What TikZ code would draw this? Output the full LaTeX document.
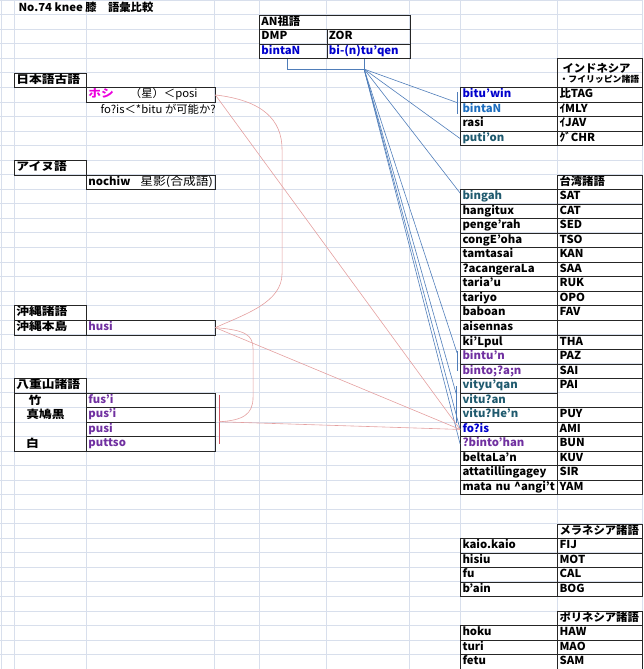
\documentclass[tikz,border=0pt]{standalone}
\usepackage{fontspec}
\setmainfont{Noto Sans CJK JP}[FakeStretch=1.03]
\newfontfamily\jfont{Noto Sans CJK JP}[FakeStretch=1.16]
\definecolor{sheetc}{RGB}{216,223,236}
\definecolor{antiec}{RGB}{79,125,185}
\definecolor{reflinkc}{RGB}{228,160,160}
\definecolor{barc}{RGB}{205,85,100}
\definecolor{anblue}{RGB}{0,0,204}
\definecolor{midblue}{RGB}{30,110,190}
\definecolor{tealc}{RGB}{31,90,110}
\definecolor{purp}{RGB}{112,48,160}
\definecolor{pinkc}{RGB}{235,0,220}
\begin{document}
\begin{tikzpicture}[x=1pt, y=-14.54pt,
  font=\fontsize{11pt}{13pt}\selectfont\bfseries,
  cell/.style={draw=black!85, line width=0.8pt, anchor=north west, minimum height=14.54pt,
    inner xsep=2pt, inner ysep=0pt, text width=#1pt, align=left, text height=8.2pt, text depth=2.5pt},
  jcell/.style={cell=#1, font=\fontsize{11pt}{13pt}\selectfont\jfont\bfseries},
  jlabel/.style={font=\fontsize{11pt}{13pt}\selectfont\jfont\bfseries},
  sheetline/.style={draw=sheetc, line width=0.5pt},
  antie/.style={draw=antiec, line width=0.6pt},
  reflink/.style={draw=reflinkc, line width=0.6pt},
  barline/.style={draw=barc, line width=0.7pt}]
\useasboundingbox (0,0) rectangle (643,46);
% sheet grid
\foreach \k in {0,...,46} \path[sheetline] (0,\k) -- (643,\k);
\foreach \c in {1,14,86,214.5,259,326.5,409.5,460,557,642} \path[sheetline] (\c,0) -- (\c,46);

\node[anchor=west] (title) at (15,0.5) {No.74 knee 膝　語彙比較};

% left tables
\node[jcell=68] (kogo) at (14,5) {日本語古語};
\node[cell=124.5] (hoshi) at (86,6) {\textcolor{pinkc}{\jfont ホシ}\kern16pt\mdseries （星）＜posi};
\node[anchor=west, font=\fontsize{11pt}{13pt}\selectfont] (note) at (97,7.5) {fo?is＜*bitu が可能か?};
\node[jcell=68] (ainu) at (14,11) {アイヌ語};
\node[cell=124.5] (nochiw) at (86,12) {nochiw\kern10pt{\jfont\mdseries 星影(合成語)}};
\node[jcell=68] (oki) at (14,21) {沖縄諸語};
\node[jcell=68] (okih) at (14,22) {沖縄本島};
\node[cell=124.5, text=purp] (husi) at (86,22) {husi};
\node[jcell=68] (yae) at (14,26) {八重山諸語};
\node[cell=68, minimum height=58.16pt] (yaebox) at (14,27) {};
\node[jlabel] (take) at (35,27.5) {竹};
\node[jlabel] (mahato) at (45.5,28.5) {真鳩黒};
\node[jlabel] (shiro) at (32.5,30.5) {白};
\node[cell=124.5, text=purp] (fusi) at (86,27) {fus'i};
\node[cell=124.5, text=purp] (pusi1) at (86,28) {pus'i};
\node[cell=124.5, text=purp] (pusi) at (86,29) {pusi};
\node[cell=124.5, text=purp] (puttso) at (86,30) {puttso};

% AN table
\node[cell=146.5] (anroot) at (259,1) {AN祖語};
\node[cell=63.5] (dmp) at (259,2) {DMP};
\node[cell=79] (zor) at (326.5,2) {ZOR};
\node[cell=63.5, text=anblue] (dmpw) at (259,3) {bintaN};
\node[cell=79, text=anblue] (zorw) at (326.5,3) {bi-(n)tu'qen};

% Indonesia / Philippines
\node[cell=81, minimum height=29.08pt, text height=, text depth=] (indoh) at (557,4)
  {\kern3pt インドネシア\\[-3pt]{\fontsize{8.6pt}{10pt}\selectfont ・フイリッピン諸語}};
\node[cell=93, text=anblue] (bituwin) at (460,6) {bitu'win};
\node[cell=81] (tag) at (557,6) {比TAG};
\node[cell=93, text=midblue] (bintanI) at (460,7) {bintaN};
\node[cell=81] (mly) at (557,7) {ｲMLY};
\node[cell=93] (rasi) at (460,8) {rasi};
\node[cell=81] (jav) at (557,8) {ｲJAV};
\node[cell=93, text=tealc] (pution) at (460,9) {puti'on};
\node[cell=81] (chr) at (557,9) {ｸﾞCHR};

% Taiwan
\node[cell=81] (taiwanh) at (557,12) {台湾諸語};
\node[cell=93, text=tealc] (bingah) at (460,13) {bingah};
\node[cell=81] (sat) at (557,13) {SAT};
\node[cell=93] (hangitux) at (460,14) {hangitux};
\node[cell=81] (cat) at (557,14) {CAT};
\node[cell=93] (pengerah) at (460,15) {penge'rah};
\node[cell=81] (sed) at (557,15) {SED};
\node[cell=93] (congeoha) at (460,16) {congE'oha};
\node[cell=81] (tso) at (557,16) {TSO};
\node[cell=93] (tamtasai) at (460,17) {tamtasai};
\node[cell=81] (kan) at (557,17) {KAN};
\node[cell=93] (acangerala) at (460,18) {?acangeraLa};
\node[cell=81] (saa) at (557,18) {SAA};
\node[cell=93] (tariau) at (460,19) {taria'u};
\node[cell=81] (ruk) at (557,19) {RUK};
\node[cell=93] (tariyo) at (460,20) {tariyo};
\node[cell=81] (opo) at (557,20) {OPO};
\node[cell=93] (baboan) at (460,21) {baboan};
\node[cell=81] (fav) at (557,21) {FAV};
\node[cell=93] (aisennas) at (460,22) {aisennas};
\node[cell=81] (empty) at (557,22) {};
\node[cell=93] (kilpul) at (460,23) {ki'Lpul};
\node[cell=81] (tha) at (557,23) {THA};
\node[cell=93, text=purp] (bintun) at (460,24) {bintu'n};
\node[cell=81] (paz) at (557,24) {PAZ};
\node[cell=93, text=purp] (bintoan) at (460,25) {binto;?a;n};
\node[cell=81] (sai) at (557,25) {SAI};
\node[cell=93, text=tealc] (vityuqan) at (460,26) {vityu'qan};
\node[cell=81, minimum height=29.08pt, text depth=17.04pt] (pai) at (557,26) {PAI};
\node[cell=93, text=tealc] (vituan) at (460,27) {vitu?an};
\node[cell=93, text=tealc] (vituhen) at (460,28) {vitu?He'n};
\node[cell=81] (puy) at (557,28) {PUY};
\node[cell=93, text=anblue] (fois) at (460,29) {fo?is};
\node[cell=81] (ami) at (557,29) {AMI};
\node[cell=93, text=purp] (bintohan) at (460,30) {?binto'han};
\node[cell=81] (bun) at (557,30) {BUN};
\node[cell=93] (beltalan) at (460,31) {beltaLa'n};
\node[cell=81] (kuv) at (557,31) {KUV};
\node[cell=93] (atta) at (460,32) {attatillingagey};
\node[cell=81] (sir) at (557,32) {SIR};
\node[cell=93] (matanu) at (460,33) {mata~nu~\textasciicircum angi't};
\node[cell=81] (yam) at (557,33) {YAM};

% Melanesia
\node[cell=81] (melah) at (557,36) {メラネシア諸語};
\node[cell=93] (kaio) at (460,37) {kaio.kaio};
\node[cell=81] (fij) at (557,37) {FIJ};
\node[cell=93] (hisiu) at (460,38) {hisiu};
\node[cell=81] (mot) at (557,38) {MOT};
\node[cell=93] (fu) at (460,39) {fu};
\node[cell=81] (cal) at (557,39) {CAL};
\node[cell=93] (bain) at (460,40) {b'ain};
\node[cell=81] (bog) at (557,40) {BOG};

% Polynesia
\node[cell=81] (polyh) at (557,42) {ポリネシア諸語};
\node[cell=93] (hoku) at (460,43) {hoku};
\node[cell=81] (haw) at (557,43) {HAW};
\node[cell=93] (turi) at (460,44) {turi};
\node[cell=81] (mao) at (557,44) {MAO};
\node[cell=93] (fetu) at (460,45) {fetu};
\node[cell=81] (sam) at (557,45) {SAM};

% AN links
\coordinate (an) at (364,4.75);
\path[antie] ([xshift=-6pt]dmpw.south) |- (an) -- (an |- zorw.south);
\path[antie] ([xshift=-3pt,yshift=-5pt]bituwin.north west) -- ([xshift=-3pt,yshift=3pt]bintanI.south west);
\path[antie] (an) -- ([xshift=-3pt]bituwin.south west);
\path[antie] (an) -- (pution.west);
\path[antie] (an) -- ([yshift=-4pt]bingah.north west);
\path[antie] ([xshift=-3pt,yshift=-2pt]bintun.north west) -- ([xshift=-3pt]bintoan.west);
\path[antie] (an) -- ([xshift=-3pt,yshift=-4pt]bintun.north west);
\path[antie] ([xshift=-4pt,yshift=-8pt]vityuqan.north west) -- ([xshift=-4pt]vituhen.south west);
\path[antie] (an) -- ([xshift=-4pt]vityuqan.south west);
\path[antie] (an) -- (fois.west);
\path[antie] (an) -- (bintohan.west);

% Japanese / Ryukyuan links
\coordinate (yb) at ([xshift=4pt]pusi.north east);
\path[barline] ([xshift=4pt,yshift=-2pt]fusi.north east) -- ([xshift=4pt]puttso.east);
\path[reflink] (hoshi.east) .. controls (262,6.9) and (282,8.2) .. (282,10.3) -- (282,18.8) .. controls (282,20.8) and (245,21.6) .. (husi.east);
\path[reflink] (husi.east) .. controls (245,22.7) and (253,23.0) .. (253,24) -- (253,27.3) .. controls (253,28.5) and (243,28.9) .. (yb);
\path[reflink] (hoshi.east) -- (fois.west);
\path[reflink] (husi.east) -- (fois.west);
\path[reflink] (yb) -- (fois.west);
\end{tikzpicture}
\end{document}
